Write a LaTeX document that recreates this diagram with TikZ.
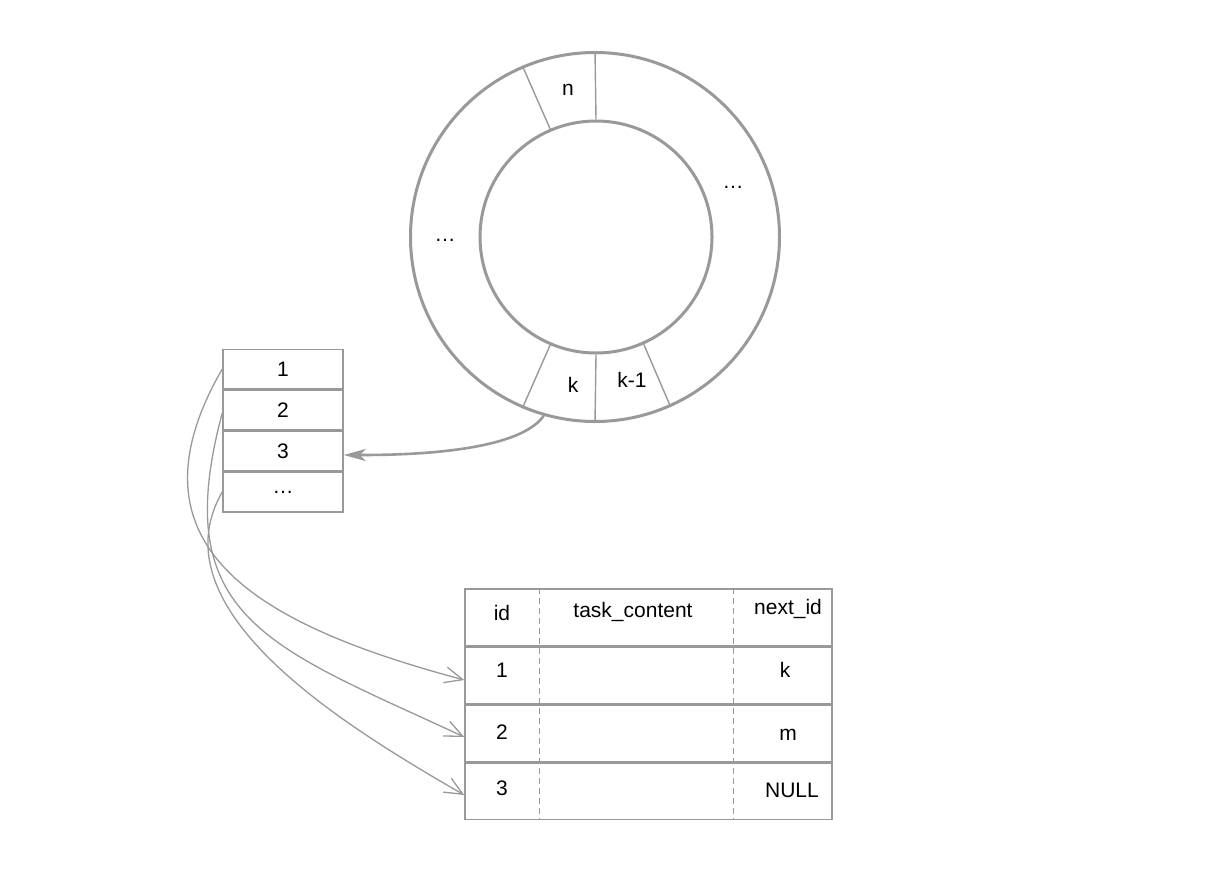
\documentclass[tikz,border=0pt]{standalone}
\usepackage{fontspec}
\setmainfont{Liberation Sans}
\usepackage{xcolor}
\usetikzlibrary{arrows.meta,positioning}
\definecolor{linegray}{RGB}{153,153,153}
\tikzset{
  cell/.style={draw=linegray, line width=0.75pt, minimum width=60pt, minimum height=19.75pt, inner sep=0pt},
  rowbox/.style={draw=linegray, line width=0.75pt, minimum width=183.5pt, minimum height=28.25pt, inner sep=0pt},
  ringline/.style={draw=linegray, line width=1.5pt},
  divider/.style={linegray, line width=0.7pt},
  colsep/.style={linegray, line width=0.6pt, dash pattern=on 3pt off 2pt},
  link/.style={linegray, line width=0.65pt, -{Straight Barb[length=9pt,width=8pt]}},
  pointer/.style={linegray, line width=1.3pt, -{Stealth[length=11pt,width=6pt,inset=3pt]}}
}

\begin{document}
\begin{tikzpicture}[x=0.5pt,y=-0.5pt,font=\fontsize{10.5}{12}\selectfont]
\useasboundingbox (0,0) rectangle (1225,883);
\fill[white] (0,0) rectangle (1225,883);
% ring
\node[circle, ringline, minimum size=184.5pt, inner sep=0pt] (outer) at (595,237) {};
\node[circle, ringline, minimum size=116pt, inner sep=0pt] (inner) at (596,237) {};
\foreach \a in {90,113,247,270,294}
  \draw[divider] (outer.\a) -- (inner.\a);
\node (segn) at (568,90) {n};
\node (segr) at (733,187) {…};
\node (segl) at (445,240) {…};
\node (segk) at (573,385) {k};
\node (segkm) at (632,380) {k-1};

% slots
\node[cell] (s1) at (283,369) {1};
\node[cell, below=0pt of s1] (s2) {2};
\node[cell, below=0pt of s2] (s3) {3};
\node[cell, below=0pt of s3] (s4) {…};

% task table
\node[rowbox] (hd) at (648.5,617) {};
\node[rowbox, below=0pt of hd] (t1) {};
\node[rowbox, below=0pt of t1] (t2) {};
\node[rowbox, below=0pt of t2] (t3) {};
\draw[colsep] ([xshift=37.5pt]hd.north west) -- ([xshift=37.5pt]t3.south west);
\draw[colsep] ([xshift=134.5pt]hd.north west) -- ([xshift=134.5pt]t3.south west);
\node (hid) at (502,613) {id};
\node (hcont) at (633,612) {task\_content};
\node (hnext) at (788,609) {next\_id};
\node (id1) at (502,670) {1};
\node (nx1) at (785,670) {k};
\node (id2) at (502,732) {2};
\node (nx2) at (788,735) {m};
\node (id3) at (502,788) {3};
\node (nx3) at (792,790) {NULL};

% pointers
\draw[pointer] (outer.254) to[out=235,in=0,looseness=0.6] ([yshift=-2pt]s3.east);
\draw[link] (s1.west) to[out=240,in=165,looseness=1.35] ([yshift=-2.5pt]t1.west);
\draw[link] ([yshift=-1.5pt]s2.west) to[out=255,in=155,looseness=1.35] ([yshift=-2pt]t2.west);
\draw[link] (s4.west) to[out=240,in=150,looseness=0.9] ([yshift=-2pt]t3.west);
\end{tikzpicture}
\end{document}
